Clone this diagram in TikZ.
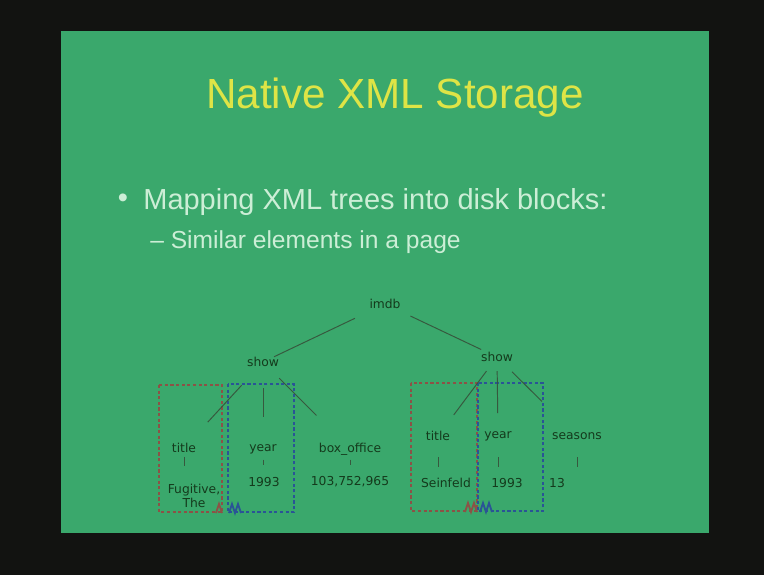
\documentclass[tikz,border=0pt]{standalone}
\usepackage{fontspec}
\setmainfont{Liberation Sans}
\newfontfamily\treefont{DejaVu Sans}
\usetikzlibrary{positioning}
\definecolor{slidegreen}{RGB}{58,168,108}
\definecolor{slideblack}{RGB}{18,19,17}
\definecolor{titleyellow}{RGB}{222,228,70}
\definecolor{bulletmint}{RGB}{204,238,214}
\definecolor{treeink}{RGB}{20,58,28}
\definecolor{pagered}{RGB}{140,82,70}
\definecolor{pageblue}{RGB}{42,84,150}

\begin{document}
\begin{tikzpicture}[x=0.02cm,y=-0.02cm,
      lbl/.style={font=\treefont\fontsize{7}{8}\selectfont,text=treeink,inner sep=1pt,align=center},
      link/.style={draw=treeink!85,line width=0.55pt},
      redpage/.style={draw=pagered,line width=1.2pt,dash pattern=on 1.8pt off 1.4pt},
      bluepage/.style={draw=pageblue,line width=1.2pt,dash pattern=on 1.8pt off 1.4pt}]
    % slide
    \fill[slideblack] (0,0) rectangle (764,575);
    \fill[slidegreen] (61,31) rectangle (709,533);
    \useasboundingbox (0,0) rectangle (764,575);

    \node[text=titleyellow,font=\fontsize{24}{28}\selectfont] (head) at (395,98) {Native XML Storage};
    \node[text=bulletmint,font=\fontsize{16.5}{20}\selectfont] (dot) at (123,201) {•};
    \node[text=bulletmint,font=\fontsize{16.5}{20}\selectfont,anchor=west,inner sep=0pt] (point) at (143,202) {Mapping XML trees into disk blocks:};
    \node[text=bulletmint,font=\fontsize{14}{17}\selectfont,anchor=west,inner sep=0pt] (subpoint) at (150,242) {– Similar elements in a page};

    % pages
    \draw[redpage] (159,385) rectangle (222,512);
    \draw[bluepage] (228,384) rectangle (294,512);
    \draw[redpage] (411,383) rectangle (477,511);
    \draw[bluepage] (478,383) rectangle (543,511);

    % tree
    \node[lbl] (imdb) at (385,304) {imdb};
    \node[lbl] (showa) at (263,362) {show};
    \node[lbl] (showb) at (497,357) {show};
    \node[lbl] (titlea) at (184,448) {title};
    \node[lbl] (yeara) at (263,449) {year};
    \node[lbl] (boxoff) at (350,449) {box\_office};
    \node[lbl] (namea) at (194,496) {Fugitive,\\The};
    \node[lbl] (yrvala) at (264,482) {1993};
    \node[lbl] (gross) at (350,482) {103,752,965};
    \node[lbl] (titleb) at (438,436) {title};
    \node[lbl] (yearb) at (498,436) {year};
    \node[lbl] (seasons) at (577,436) {seasons};
    \node[lbl] (nameb) at (446,483) {Seinfeld};
    \node[lbl] (yrvalb) at (507,483) {1993};
    \node[lbl] (count) at (557,483) {13};

    \draw[link,shorten <=19pt,shorten >=7pt] (imdb.center) -- (showa.center);
    \draw[link,shorten <=16pt,shorten >=10pt] (imdb.center) -- (showb.center);

    \draw[link,shorten <=18pt,shorten >=20pt] (showa.center) -- (titlea.center);
    \draw[link,shorten <=15pt,shorten >=18pt] (showa.center) -- (yeara.center);
    \draw[link,shorten <=13pt,shorten >=27pt] (showa.center) -- (boxoff.center);
    \draw[link,shorten <=10pt,shorten >=15pt] (showb.center) -- (titleb.center);
    \draw[link,shorten <=8pt,shorten >=13pt] (showb.center) -- (yearb.center);
    \draw[link,shorten <=12pt,shorten >=28pt] (showb.center) -- (seasons.center);

    \draw[link,shorten <=5pt,shorten >=17pt] (titlea.center) -- (titlea.center |- namea.center);
    \draw[link,shorten <=6pt,shorten >=9.5pt] (yeara.center) -- (yeara.center |- yrvala.center);
    \draw[link,shorten <=6pt,shorten >=9.5pt] (boxoff.center) -- (boxoff.center |- gross.center);
    \draw[link,shorten <=12pt,shorten >=9pt] (titleb.center) -- (titleb.center |- nameb.center);
    \draw[link,shorten <=12pt,shorten >=9pt] (yearb.center) -- (yearb.center |- yrvalb.center);
    \draw[link,shorten <=12pt,shorten >=9pt] (seasons.center) -- (seasons.center |- count.center);

    % small page marks on the bottom edges
    \draw[pagered,line width=1pt] (216,513) -- (219,504) -- (222,513);
    \draw[pageblue,line width=1pt] (229,513) -- (232,504) -- (235,513) -- (238,504) -- (241,513);
    \draw[pagered,line width=1pt] (465,512) -- (468,503) -- (471,512) -- (474,503) -- (477,512);
    \draw[pageblue,line width=1pt] (480,512) -- (483,503) -- (486,512) -- (489,503) -- (492,512);
\end{tikzpicture}
\end{document}
